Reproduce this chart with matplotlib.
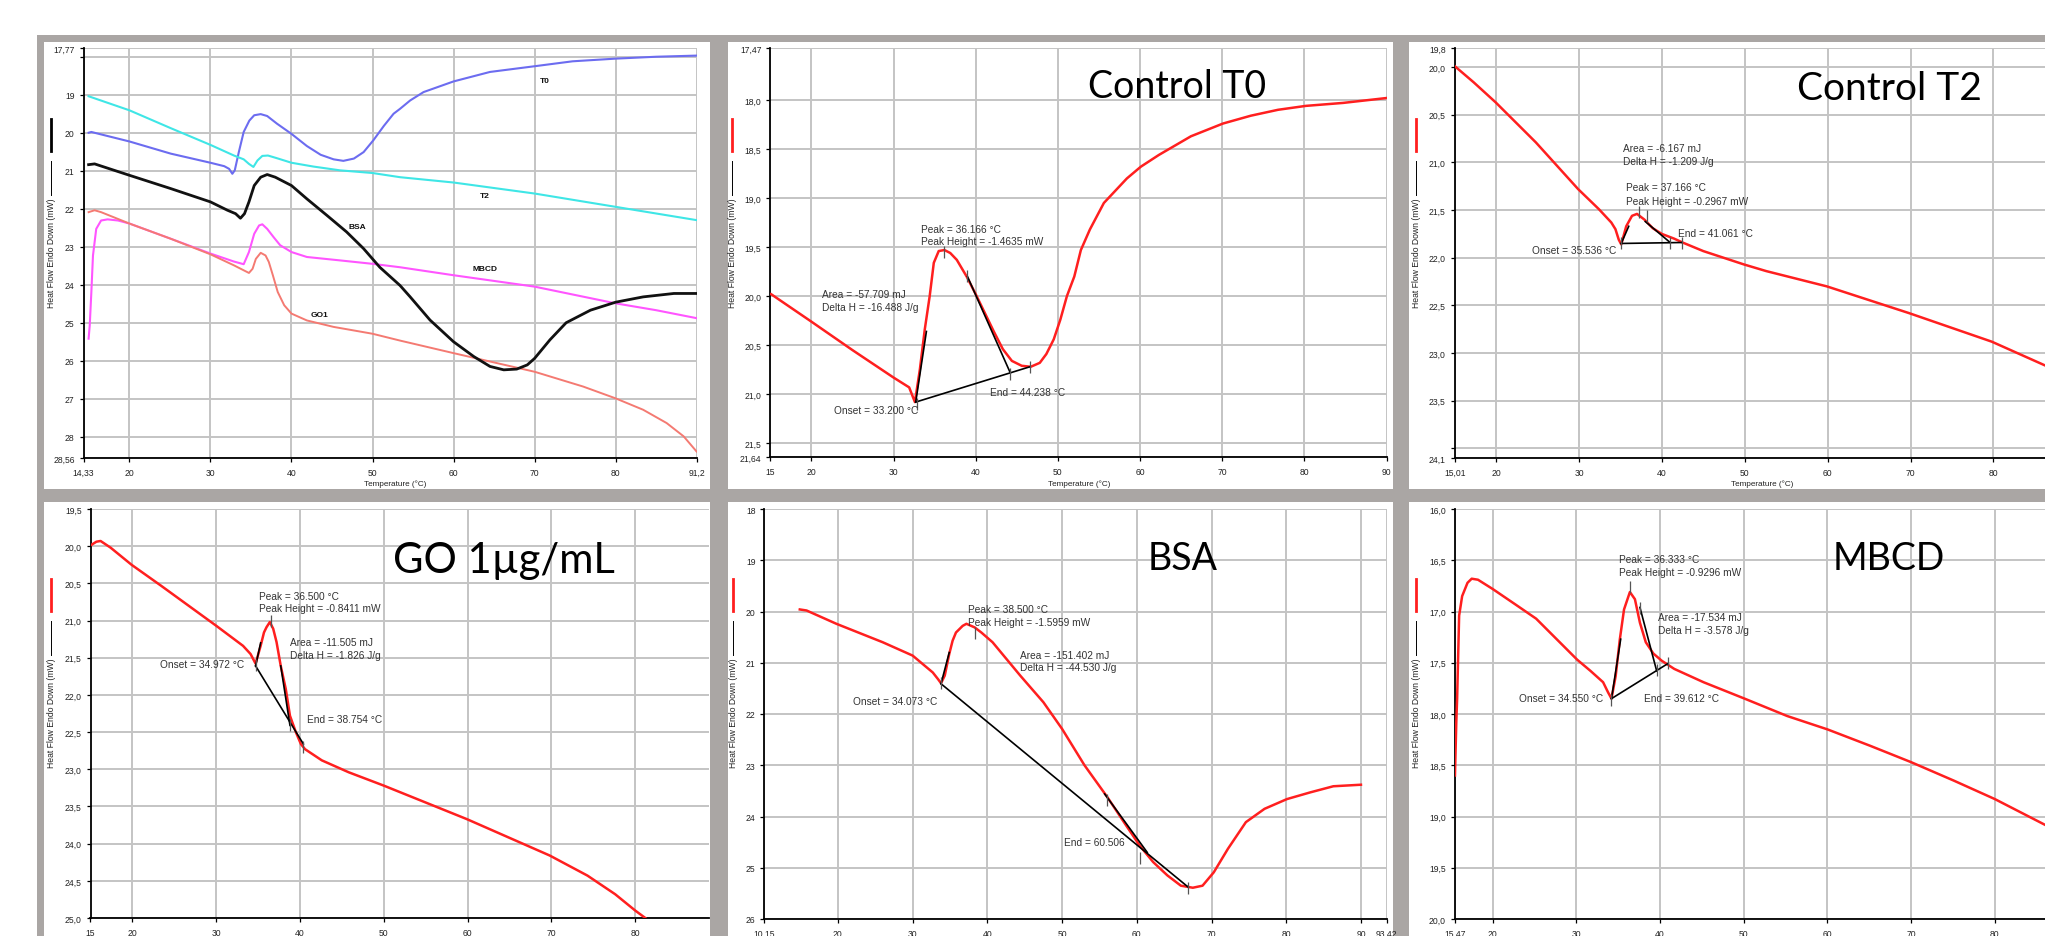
import matplotlib
matplotlib.use("Agg")
import matplotlib.pyplot as plt
from matplotlib.patches import Rectangle
from matplotlib.lines import Line2D

plt.rcParams['font.family'] = ['Liberation Sans', 'DejaVu Sans']

W, H = 2045, 937

# ---------------- DATA ----------------
# Panel 1 : overlay of all samples
p1_t0_T = [14.96, 15.3, 20, 25.1, 30, 31.7, 32.3, 32.7, 33.0, 33.5, 34.1, 34.8, 35.4, 36.2, 37.0, 38.2, 40.0, 41.9,
           43.6, 45.2, 46.4, 47.7, 48.9, 50.1, 51.4, 52.6, 53.4, 54.65, 56.3, 60, 64.5, 70, 74.7, 80, 85, 90]
p1_t0_Y = [20.0, 19.98, 20.23, 20.55, 20.79, 20.88, 20.95, 21.08, 20.99, 20.51, 19.98, 19.68, 19.54, 19.51, 19.56,
           19.76, 20.03, 20.35, 20.58, 20.7, 20.74, 20.68, 20.51, 20.2, 19.82, 19.5, 19.37, 19.15, 18.93, 18.65, 18.4,
           18.25, 18.12, 18.05, 18.0, 17.97]
p1_t2_T = [14.96, 20, 25.1, 30.0, 32.9, 34.1, 34.75, 35.3, 35.8, 36.4, 37.1, 38.2, 40.0, 42.7, 46.0, 50.0, 53.4, 60,
           70, 80, 90]
p1_t2_Y = [19.04, 19.41, 19.88, 20.32, 20.6, 20.7, 20.82, 20.9, 20.73, 20.61, 20.6, 20.67, 20.79, 20.89, 20.99, 21.06,
           21.17, 21.31, 21.6, 21.95, 22.3]
p1_bsa_T = [14.96, 15.7, 20, 25.1, 30, 32.1, 33.1, 33.7, 34.2, 34.75, 35.4, 36.2, 37.0, 38.0, 40.0, 41.9, 44.4, 46.8,
            48.9, 50.9, 53.4, 54.65, 57.1, 60, 62.5, 64.5, 66.2, 67.8, 69.1, 70, 71.9, 73.9, 76.9, 80, 83.4, 87.2, 90]
p1_bsa_Y = [20.84, 20.82, 21.12, 21.47, 21.82, 22.04, 22.13, 22.25, 22.13, 21.82, 21.39, 21.17, 21.1, 21.17, 21.39,
            21.74, 22.18, 22.61, 23.05, 23.54, 24.02, 24.32, 24.93, 25.5, 25.89, 26.15, 26.24, 26.22, 26.11, 25.94,
            25.45, 25.0, 24.67, 24.46, 24.32, 24.23, 24.23]
p1_mbcd_T = [14.96, 15.1, 15.3, 15.5, 15.9, 16.5, 17.3, 18.6, 20, 25.1, 30, 32.9, 34.1, 34.75, 35.4, 36.0, 36.4, 37.0,
             37.8, 38.6, 40, 41.9, 46.0, 50, 53.4, 60, 70, 80, 85, 90]
p1_mbcd_Y = [25.42, 25.07, 24.19, 23.23, 22.53, 22.31, 22.28, 22.31, 22.39, 22.79, 23.18, 23.39, 23.46, 23.14, 22.66,
             22.44, 22.41, 22.53, 22.75, 22.96, 23.14, 23.27, 23.36, 23.45, 23.54, 23.75, 24.05, 24.49, 24.67, 24.88]
p1_go1_T = [14.96, 15.7, 16.5, 20, 25.1, 30, 32.9, 34.1, 34.75, 35.2, 35.6, 36.2, 36.8, 37.2, 37.7, 38.3, 39.1, 40,
            41.9, 45.2, 50, 53.4, 60, 70, 76, 80, 83.4, 86.3, 88.4, 90]
p1_go1_Y = [22.09, 22.04, 22.09, 22.39, 22.79, 23.2, 23.49, 23.62, 23.69, 23.58, 23.32, 23.16, 23.23, 23.4, 23.75,
            24.19, 24.54, 24.76, 24.94, 25.11, 25.29, 25.47, 25.8, 26.29, 26.68, 26.99, 27.29, 27.64, 27.99, 28.39]
p1_names = ["T0", "T2", "BSA", "MBCD", "GO1"]
p1_name_T = [71.3, 63.9, 48.1, 63.9, 43.4]
p1_name_Y = [18.62, 21.64, 22.46, 23.57, 24.79]

# Panel 2 : Control T0
p2_T = [15.1, 20, 25, 30, 31.9, 32.6, 33.2, 33.8, 34.4, 34.9, 35.5, 36.2, 36.9, 37.7, 38.9, 40.0, 41.1, 42.2, 43.3,
        44.4, 45.6, 46.7, 47.8, 48.6, 49.5, 50.3, 51.1, 52.0, 52.8, 53.9, 55.6, 58.4, 60.1, 62.3, 66.2, 70.1, 73.5,
        76.8, 80.2, 84.7, 90.0]
p2_Y = [19.98, 20.26, 20.55, 20.83, 20.93, 21.08, 20.75, 20.34, 20.0, 19.66, 19.54, 19.53, 19.56, 19.63, 19.8, 19.98,
        20.17, 20.36, 20.54, 20.66, 20.71, 20.72, 20.68, 20.59, 20.44, 20.24, 20.0, 19.8, 19.53, 19.32, 19.05, 18.8,
        18.68, 18.56, 18.37, 18.24, 18.16, 18.1, 18.06, 18.03, 17.98]
p2_seg = [[(32.7, 21.08), (34.0, 20.36)], [(32.7, 21.08), (46.6, 20.72)], [(39.0, 19.8), (44.2, 20.78)]]
p2_tick_T = [32.9, 36.2, 39.0, 44.2, 46.6]
p2_tick_Y = [21.1, 19.55, 19.79, 20.79, 20.72]
p2_txt = [("Peak = 36.166 °C", 33.3, 19.32), ("Peak Height = -1.4635 mW", 33.3, 19.44),
          ("Area = -57.709 mJ", 21.3, 19.98), ("Delta H = -16.488 J/g", 21.3, 20.11),
          ("End = 44.238 °C", 41.8, 20.98), ("Onset = 33.200 °C", 22.8, 21.16)]

# Panel 3 : Control T2
p3_T = [15.01, 17.3, 19.95, 24.8, 29.9, 32.4, 33.9, 34.4, 34.8, 35.1, 35.7, 36.4, 37.0, 37.9, 38.9, 40.0, 41.5, 42.5,
        45.0, 49.9, 52.6, 59.9, 69.8, 79.8, 86.5]
p3_Y = [19.99, 20.16, 20.37, 20.79, 21.28, 21.49, 21.63, 21.7, 21.81, 21.86, 21.67, 21.56, 21.54, 21.6, 21.69, 21.75,
        21.8, 21.84, 21.93, 22.07, 22.14, 22.3, 22.58, 22.88, 23.14]
p3_seg = [[(35.1, 21.85), (42.4, 21.84)], [(35.1, 21.85), (36.0, 21.67)], [(38.0, 21.62), (41.0, 21.84)]]
p3_tick_T = [35.1, 37.2, 38.2, 41.0, 42.4]
p3_tick_Y = [21.84, 21.52, 21.56, 21.84, 21.84]
p3_txt = [("Area = -6.167 mJ", 35.3, 20.85), ("Delta H = -1.209 J/g", 35.3, 20.99),
          ("Peak = 37.166 °C", 35.7, 21.26), ("Peak Height = -0.2967 mW", 35.7, 21.40),
          ("End = 41.061 °C", 41.9, 21.74), ("Onset = 35.536 °C", 24.3, 21.92)]

# Panel 4 : GO 1 ug/mL
p4_T = [15, 15.7, 16.2, 17.4, 19.9, 23.4, 30.0, 33.2, 34.1, 34.7, 35.3, 35.7, 36.0, 36.4, 36.8, 37.2, 37.7, 38.3,
        38.8, 39.5, 40.1, 40.6, 42.6, 45.8, 50.0, 59.9, 69.8, 74.3, 77.6, 80.0, 81.2]
p4_Y = [19.99, 19.94, 19.93, 20.02, 20.25, 20.53, 21.07, 21.34, 21.45, 21.58, 21.34, 21.16, 21.09, 21.02, 21.11,
        21.29, 21.61, 21.92, 22.28, 22.5, 22.66, 22.73, 22.88, 23.04, 23.22, 23.67, 24.16, 24.43, 24.68, 24.9, 25.0]
p4_seg = [[(34.7, 21.61), (40.4, 22.66)], [(34.7, 21.61), (35.3, 21.30)], [(37.7, 21.61), (38.8, 22.41)]]
p4_tick_T = [34.8, 36.5, 38.8, 40.4]
p4_tick_Y = [21.6, 21.0, 22.4, 22.7]
p4_txt = [("Peak = 36.500 °C", 35.1, 20.67), ("Peak Height = -0.8411 mW", 35.1, 20.83),
          ("Area = -11.505 mJ", 38.8, 21.29), ("Delta H = -1.826 J/g", 38.8, 21.46),
          ("Onset = 34.972 °C", 23.3, 21.59), ("End = 38.754 °C", 40.8, 22.32)]

# Panel 5 : BSA
p5_T = [14.9, 15.8, 19.8, 26.0, 30.0, 32.7, 33.4, 33.8, 34.3, 34.9, 35.35, 35.8, 36.7, 37.2, 38.3, 39.2, 40.7, 44.4,
        47.5, 50.0, 53.0, 56.1, 58.6, 60.4, 62.2, 64.1, 65.9, 67.5, 68.8, 70.3, 72.2, 74.6, 77.1, 80.1, 83.2, 86.3, 90.0]
p5_Y = [19.96, 19.98, 20.24, 20.6, 20.86, 21.19, 21.32, 21.4, 21.25, 20.83, 20.57, 20.41, 20.28, 20.24, 20.31, 20.41,
        20.6, 21.25, 21.77, 22.29, 23.0, 23.63, 24.18, 24.57, 24.89, 25.15, 25.35, 25.39, 25.35, 25.09, 24.63, 24.11,
        23.85, 23.66, 23.53, 23.41, 23.38]
p5_seg = [[(33.8, 21.41), (66.9, 25.38)], [(33.8, 21.41), (34.9, 20.8)], [(55.7, 23.56), (61.4, 24.7)]]
p5_tick_T = [33.8, 38.4, 56.0, 60.4, 66.9]
p5_tick_Y = [21.4, 20.42, 23.68, 24.8, 25.4]
p5_txt = [("Peak = 38.500 °C", 37.4, 19.96), ("Peak Height = -1.5959 mW", 37.4, 20.21),
          ("Area = -151.402 mJ", 44.4, 20.84), ("Delta H = -44.530 J/g", 44.4, 21.09),
          ("Onset = 34.073 °C", 22.0, 21.74), ("End = 60.506", 50.3, 24.49)]

# Panel 6 : MBCD
p6_T = [15.5, 15.66, 15.76, 16.0, 16.36, 17.0, 17.5, 18.25, 20.0, 22.7, 25.2, 30.1, 31.7, 33.2, 33.8, 34.2, 34.7,
        35.2, 35.7, 36.4, 37.0, 37.6, 38.3, 39.2, 40.2, 41.7, 45.2, 50.1, 55.2, 60.0, 65.1, 70.0, 75.1, 80.0, 86.2]
p6_Y = [18.6, 18.08, 17.85, 17.04, 16.85, 16.72, 16.68, 16.69, 16.78, 16.93, 17.07, 17.47, 17.58, 17.69, 17.79, 17.85,
        17.63, 17.27, 16.98, 16.81, 16.88, 17.11, 17.3, 17.41, 17.48, 17.56, 17.69, 17.85, 18.02, 18.15, 18.31, 18.47,
        18.65, 18.83, 19.09]
p6_seg = [[(34.2, 17.85), (40.9, 17.51)], [(34.2, 17.85), (35.3, 17.27)], [(37.6, 16.96), (39.6, 17.58)]]
p6_tick_T = [34.2, 36.4, 37.6, 39.6, 40.9]
p6_tick_Y = [17.86, 16.76, 16.97, 17.57, 17.5]
p6_txt = [("Peak = 36.333 °C", 35.1, 16.49), ("Peak Height = -0.9296 mW", 35.1, 16.61),
          ("Area = -17.534 mJ", 39.7, 17.05), ("Delta H = -3.578 J/g", 39.7, 17.18),
          ("Onset = 34.550 °C", 23.1, 17.84), ("End = 39.612 °C", 38.1, 17.84)]

# Axis ticks / labels
p1_xt = [14.33, 20, 30, 40, 50, 60, 70, 80, 90.0]
p1_xl = ["14,33", "20", "30", "40", "50", "60", "70", "80", "91,2"]
p1_yt = [17.77, 18, 19, 20, 21, 22, 23, 24, 25, 26, 27, 28, 28.56]
p1_yl = ["17,77", "", "19", "20", "21", "22", "23", "24", "25", "26", "27", "28", "28,56"]
p2_xt = [15, 20, 30, 40, 50, 60, 70, 80, 90]
p2_xl = ["15", "20", "30", "40", "50", "60", "70", "80", "90"]
p2_yt = [17.47, 18.0, 18.5, 19.0, 19.5, 20.0, 20.5, 21.0, 21.5, 21.64]
p2_yl = ["17,47", "18,0", "18,5", "19,0", "19,5", "20,0", "20,5", "21,0", "21,5", "21,64"]
p3_xt = [15.01, 20, 30, 40, 50, 60, 70, 80]
p3_xl = ["15,01", "20", "30", "40", "50", "60", "70", "80"]
p3_yt = [19.8, 20.0, 20.5, 21.0, 21.5, 22.0, 22.5, 23.0, 23.5, 24.0, 24.1]
p3_yl = ["19,8", "20,0", "20,5", "21,0", "21,5", "22,0", "22,5", "23,0", "23,5", "", "24,1"]
p4_xt = [15, 20, 30, 40, 50, 60, 70, 80]
p4_xl = ["15", "20", "30", "40", "50", "60", "70", "80"]
p4_yt = [19.5, 20.0, 20.5, 21.0, 21.5, 22.0, 22.5, 23.0, 23.5, 24.0, 24.5, 25.0]
p4_yl = ["19,5", "20,0", "20,5", "21,0", "21,5", "22,0", "22,5", "23,0", "23,5", "24,0", "24,5", "25,0"]
p5_xt = [10.15, 20, 30, 40, 50, 60, 70, 80, 90, 93.42]
p5_xl = ["10,15", "20", "30", "40", "50", "60", "70", "80", "90", "93,42"]
p5_yt = [18, 19, 20, 21, 22, 23, 24, 25, 26]
p5_yl = ["18", "19", "20", "21", "22", "23", "24", "25", "26"]
p6_xt = [15.47, 20, 30, 40, 50, 60, 70, 80]
p6_xl = ["15,47", "20", "30", "40", "50", "60", "70", "80"]
p6_yt = [16.0, 16.5, 17.0, 17.5, 18.0, 18.5, 19.0, 19.5, 20.0]
p6_yl = ["16,0", "16,5", "17,0", "17,5", "18,0", "18,5", "19,0", "19,5", "20,0"]

titles = ["Control T0", "Control T2", "GO 1µg/mL", "BSA", "MBCD"]

# ---------------- FIGURE ----------------
fig = plt.figure(figsize=(W / 100, H / 100), dpi=100)
fig.patch.set_facecolor("white")


def prect(x0, y0, x1, y1, color):
    fig.add_artist(Rectangle((x0 / W, 1 - y1 / H), (x1 - x0) / W, (y1 - y0) / H,
                             transform=fig.transFigure, facecolor=color, edgecolor="none", zorder=0))


prect(36.5, 36, W + 5, H + 5, "#aaa6a4")
for (x0, x1) in [(43.6, 709.5), (727.5, 1393), (1409, W + 5)]:
    prect(x0, 43.3, x1, 490, "white")
    prect(x0, 503.3, x1, H + 5, "white")


def make_ax(l, r, t, b, xlim, ylim, xt, xl, yt, yl):
    ax = fig.add_axes([l / W, 1 - b / H, (r - l) / W, (b - t) / H])
    ax.set_facecolor("none")
    ax.set_xlim(*xlim)
    ax.set_ylim(*ylim)
    ax.set_xticks(xt)
    ax.set_xticklabels(xl)
    ax.set_yticks(yt)
    ax.set_yticklabels(yl)
    ax.grid(True, color="#c4c4c4", lw=1.4)
    ax.set_axisbelow(True)
    for s in ["top", "right"]:
        ax.spines[s].set_visible(False)
    for s in ["left", "bottom"]:
        ax.spines[s].set_color("black")
        ax.spines[s].set_linewidth(1.3)
    ax.tick_params(axis="both", direction="out", length=3, width=0.9, color="black",
                   labelsize=6.2, labelcolor="#222222")
    ax.tick_params(axis="x", pad=4.2)
    ax.tick_params(axis="y", pad=3.4)
    return ax


def annot(ax, segs, tT, tY, txts):
    for seg in segs:
        ax.plot([seg[0][0], seg[1][0]], [seg[0][1], seg[1][1]], color="black", lw=1.2, zorder=4)
    ax.plot(tT, tY, linestyle="none", marker="|", ms=9, mew=0.9, color="#555555", zorder=5)
    for s, x, y in txts:
        ax.text(x, y, s, fontsize=7.3, color="#333333", ha="left", va="center", zorder=6)


# Panel 1
a1 = make_ax(83.5, 696.6, 49, 459, (14.33, 90.0), (28.56, 17.77), p1_xt, p1_xl, p1_yt, p1_yl)
a1.plot(p1_t0_T, p1_t0_Y, color="#6c6cf0", lw=1.5)
a1.plot(p1_t2_T, p1_t2_Y, color="#3fe6e6", lw=1.5)
a1.plot(p1_mbcd_T, p1_mbcd_Y, color="#ff55ff", lw=1.5)
a1.plot(p1_go1_T, p1_go1_Y, color="#f47a72", lw=1.4)
a1.plot(p1_bsa_T, p1_bsa_Y, color="#111111", lw=2.0)
for n, x, y in zip(p1_names, p1_name_T, p1_name_Y):
    a1.text(x, y, n, fontsize=6, fontweight="bold", ha="center", va="center", color="#111111")

RED = "#ff1f1f"
# Panel 2
a2 = make_ax(770.3, 1386.5, 49, 458, (15, 90), (21.64, 17.47), p2_xt, p2_xl, p2_yt, p2_yl)
a2.plot(p2_T, p2_Y, color=RED, lw=1.8, zorder=3)
annot(a2, p2_seg, p2_tick_T, p2_tick_Y, p2_txt)
# Panel 3
a3 = make_ax(1454.7, 2086.3, 49, 459, (15.01, 91.2), (24.1, 19.8), p3_xt, p3_xl, p3_yt, p3_yl)
a3.plot(p3_T, p3_Y, color=RED, lw=1.8, zorder=3)
annot(a3, p3_seg, p3_tick_T, p3_tick_Y, p3_txt)
# Panel 4
a4 = make_ax(90.5, 709, 510, 919, (15, 88.8), (25.0, 19.5), p4_xt, p4_xl, p4_yt, p4_yl)
a4.plot(p4_T, p4_Y, color=RED, lw=1.8, zorder=3)
annot(a4, p4_seg, p4_tick_T, p4_tick_Y, p4_txt)
# Panel 5
a5 = make_ax(764.3, 1386.5, 510, 920, (10.15, 93.42), (26, 18), p5_xt, p5_xl, p5_yt, p5_yl)
a5.plot(p5_T, p5_Y, color=RED, lw=1.8, zorder=3)
annot(a5, p5_seg, p5_tick_T, p5_tick_Y, p5_txt)
# Panel 6
a6 = make_ax(1454.7, 2088.6, 510, 920, (15.47, 91.2), (20.0, 16.0), p6_xt, p6_xl, p6_yt, p6_yl)
a6.plot(p6_T, p6_Y, color=RED, lw=1.8, zorder=3)
annot(a6, p6_seg, p6_tick_T, p6_tick_Y, p6_txt)

# x-axis titles (top row)
for xc in [395, 1079, 1762]:
    fig.text(xc / W, 1 - 484 / H, "Temperature (°C)", fontsize=5.9, ha="center", va="center", color="#222222")

# y-axis titles with line sample
for xc, yoff, col in [(50.5, 0, "black"), (731.5, 0, RED), (1415.5, 0, RED),
                      (50.5, 460, RED), (733, 460, RED), (1415.5, 460, RED)]:
    fig.add_artist(Line2D([xc / W, xc / W], [1 - (120 + yoff) / H, 1 - (152 + yoff) / H],
                          transform=fig.transFigure, color=col, lw=2.0))
    fig.add_artist(Line2D([xc / W, xc / W], [1 - (162 + yoff) / H, 1 - (196 + yoff) / H],
                          transform=fig.transFigure, color="black", lw=0.7))
    fig.text((xc + 1) / W, 1 - (253 + yoff) / H, "Heat Flow Endo Down (mW)", rotation=90,
             fontsize=6.2, ha="center", va="center", color="#222222")

# big panel titles
for txt, x, yb, fs in [(titles[0], 1088, 98.3, 27), (titles[1], 1797, 100, 28),
                       (titles[2], 392.6, 573, 30), (titles[3], 1147.7, 570, 27), (titles[4], 1832.8, 570, 27)]:
    fig.text(x / W, 1 - yb / H, txt, fontsize=fs, ha="left", va="baseline", color="black",
             family=["Lato", "DejaVu Sans"])

fig.savefig("out.png", dpi=100)
